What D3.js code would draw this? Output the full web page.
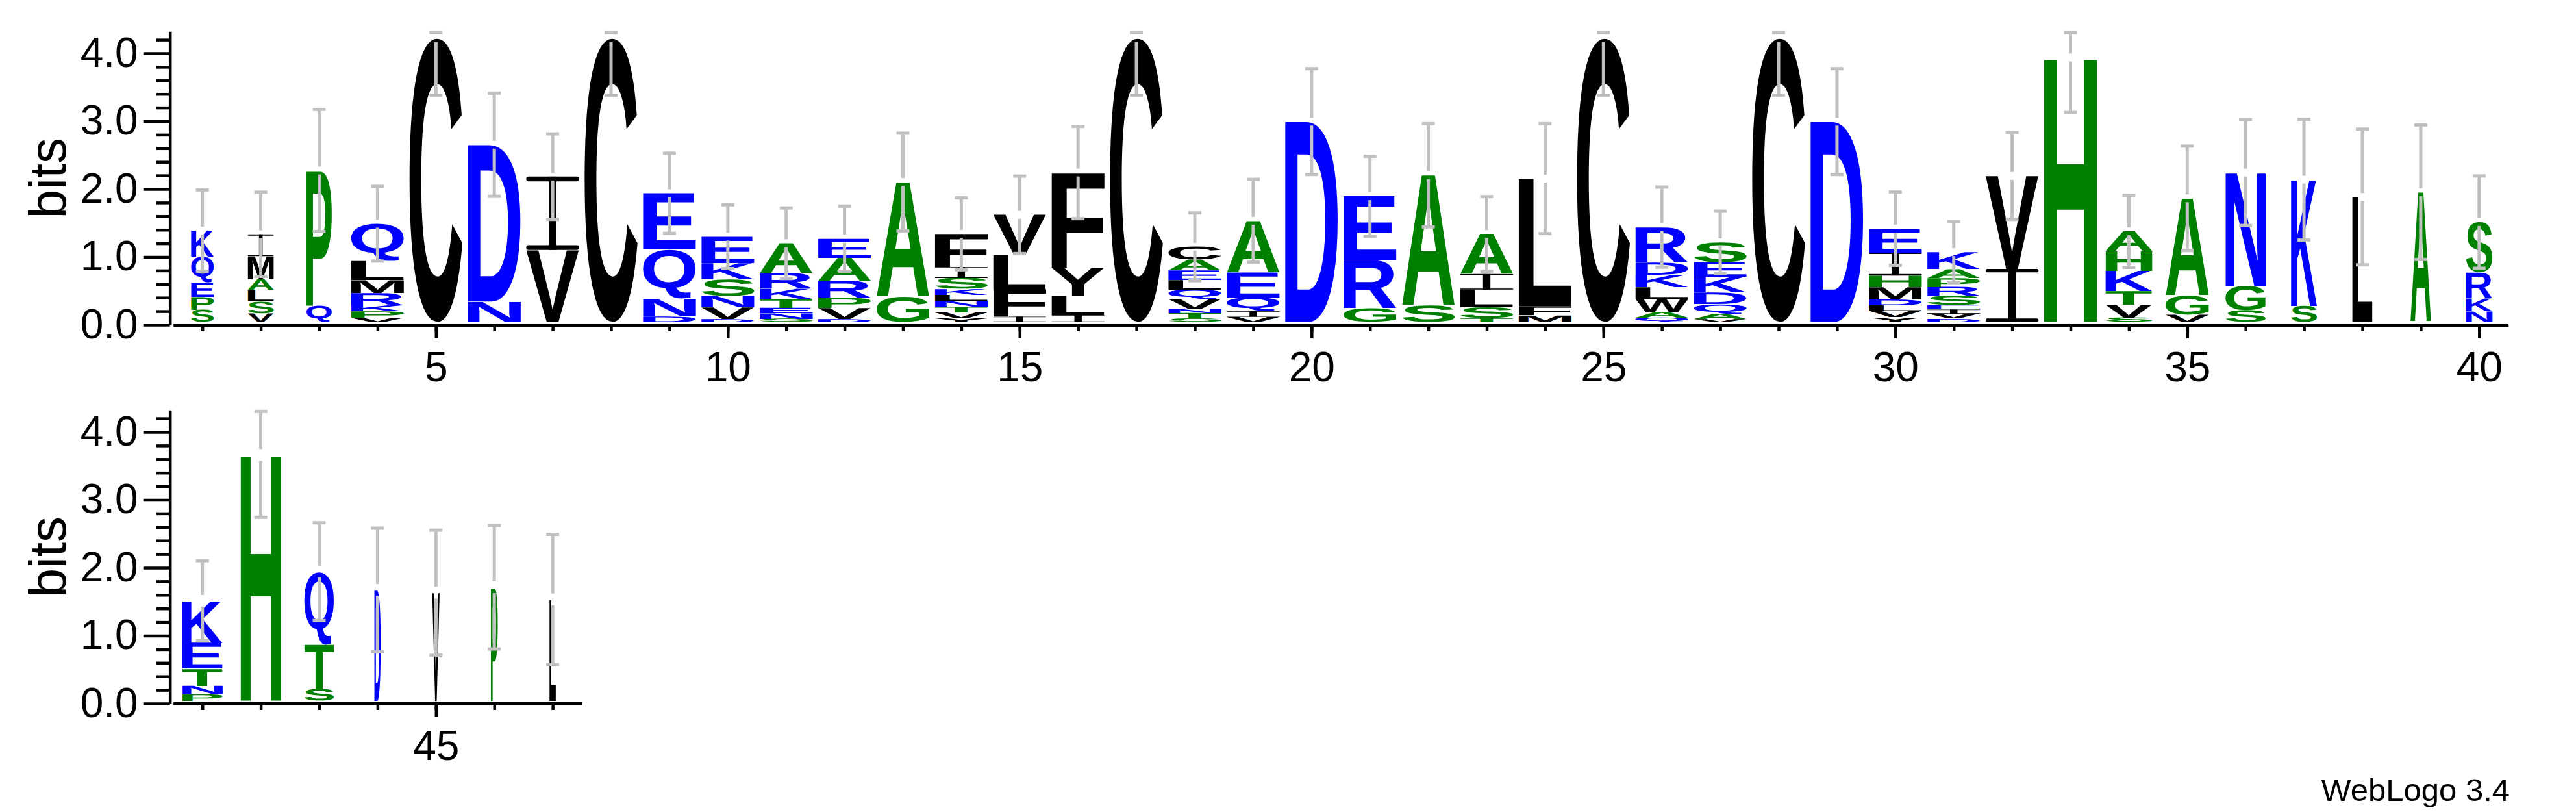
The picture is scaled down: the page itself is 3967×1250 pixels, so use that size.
<!DOCTYPE html>
<html><head><meta charset="utf-8">
<script src="https://cdn.jsdelivr.net/npm/d3@7"></script>
<style>
html,body{margin:0;padding:0;background:#fff;}
svg{display:block;}
</style></head><body>
<svg id="chart" width="3967" height="1250"></svg>
<script>
// ---------------- data ----------------
const positions = d3.range(1, 48);
// letters of each stack, listed from top to bottom
const stackLetters = [
  "KQEPS","IMALSV","PQ","QLMRKPV","C","DN","IV","C","EQND","EKSNVD",
  "ARKTENS","EARPVD","AG","FISKLNTVY","VLFI","FYLI","C","CAELQVNTS","AEQIV","D",
  "ERG","AS","AILST","LFM","C","RDKLWAQ","SEKDQAV","C","D","EIHMDLVY",
  "KAPRSEIVD","VI","H","AHKTVS","AGV","NGS","KS","L","A","SRKN",
  "KETNP","H","QTS","D","V","P","L"
];
// heights in bits, same order as the letters
const stackHeights = [
  [0.386,0.378,0.21,0.19,0.18],[0.32,0.34,0.16,0.17,0.17,0.13],[1.99,0.24],
  [0.55,0.28,0.19,0.18,0.087,0.095,0.064],[4.18],[2.31,0.30],[1.08,1.06],[4.18],
  [0.83,0.72,0.26,0.085],[0.39,0.24,0.24,0.17,0.17,0.045],
  [0.44,0.23,0.15,0.13,0.08,0.083,0.045],[0.28,0.34,0.25,0.15,0.16,0.045],[1.69,0.37],
  [0.49,0.16,0.16,0.086,0.086,0.086,0.086,0.086,0.057],[0.59,0.51,0.40,0.077],
  [1.40,0.42,0.28,0.10],[4.18],[0.19,0.16,0.14,0.14,0.14,0.15,0.057,0.081,0.048],
  [0.76,0.37,0.20,0.083,0.076],[2.95],[0.94,0.71,0.20],[1.92,0.24],
  [0.59,0.23,0.26,0.155,0.06],[1.88,0.13,0.10],[4.18],
  [0.52,0.18,0.185,0.17,0.19,0.087,0.064],[0.29,0.22,0.23,0.17,0.14,0.076,0.045],
  [4.18],[2.95],[0.35,0.34,0.17,0.18,0.086,0.09,0.09,0.067],
  [0.25,0.13,0.134,0.13,0.134,0.067,0.062,0.072,0.048],[1.37,0.78],[3.895],
  [0.29,0.29,0.30,0.20,0.19,0.064],[1.43,0.28,0.11],[1.67,0.36,0.17],[1.86,0.235],
  [1.84],[1.91],[0.74,0.38,0.19,0.16],
  [0.62,0.38,0.25,0.12,0.10],[3.62],[1.07,0.66,0.17],[1.63],[1.59],[1.67],[1.49]
];
// relative stack widths (fraction of sequences without gap)
const stackWidths = [
  0.43,0.49,0.48,1,1,1,1,1,1,1, 1,1,1,1,1,1,1,1,1,1,
  1,1,1,1,1,1,1,1,1,1, 1,1,1,0.88,0.82,0.76,0.49,0.38,0.39,0.50,
  0.76,0.76,0.56,0.12,0.14,0.13,0.12
];
// error bar half-lengths in bits
const errorBars = [
  0.60,0.62,0.90,0.55,0.84,0.76,0.63,0.84,0.59,0.47,
  0.52,0.48,0.72,0.53,0.57,0.68,0.84,0.50,0.61,0.78,
  0.59,0.76,0.55,0.81,0.84,0.59,0.46,0.84,0.78,0.54,
  0.45,0.64,0.81,0.53,0.77,0.78,0.89,1.00,0.99,0.68,
  0.59,0.92,0.72,0.91,0.92,0.91,0.96
];
const yMajorTicks = [0, 1, 2, 3, 4];
const yMinorTicks = [0.2,0.4,0.6,0.8,1.2,1.4,1.6,1.8,2.2,2.4,2.6,2.8,3.2,3.4,3.6,3.8,4.2];
const xLabelTicks = [5,10,15,20,25,30,35,40,45];
const rows = [{start: 1, end: 40}, {start: 41, end: 47}];
const colourGroups = [
  {letters: "RKDENQ", colour: "#0000ff"},
  {letters: "SGHTAP", colour: "#008000"},
  {letters: "YVMCLFIW", colour: "#000000"}
];

// ---------------- layout ----------------
const FONT = "'Liberation Sans', Arial, Helvetica, sans-serif";
const maxBits = Math.log2(20);
const BIT = 104.5;
const colStep = 89.9, colW = 81.5;
const axisX = 261.7, x0 = 266.75;
const rowBase = [500, 1083];

const svg = d3.select('#chart');
svg.append('rect').attr('width', 3967).attr('height', 1250).attr('fill', '#fff');

function colourOf(ch) {
  const g = colourGroups.find(c => c.letters.includes(ch));
  return g ? g.colour : '#000';
}

const mctx = document.createElement('canvas').getContext('2d');
const GS = 200;
mctx.font = `bold ${GS}px 'Liberation Sans'`;
const boxCache = {};
function glyphBox(ch) {
  if (!boxCache[ch]) {
    const m = mctx.measureText(ch);
    boxCache[ch] = {l: m.actualBoundingBoxLeft, r: m.actualBoundingBoxRight,
                    a: m.actualBoundingBoxAscent, d: m.actualBoundingBoxDescent};
  }
  return boxCache[ch];
}

function drawLetter(g, ch, bx, by, bw, bh) {
  const col = colourOf(ch);
  if (ch === 'I') {
    const t = Math.max(bh * 0.065, 0.8);
    const sw = bw * 0.14;
    const gi = g.append('g').attr('class', 'letter-I');
    gi.append('rect').attr('x', bx + bw / 2 - sw / 2).attr('y', by).attr('width', sw).attr('height', bh).attr('fill', col);
    gi.append('rect').attr('x', bx).attr('y', by).attr('width', bw).attr('height', t).attr('rx', t / 2).attr('fill', col);
    gi.append('rect').attr('x', bx).attr('y', by + bh - t).attr('width', bw).attr('height', t).attr('rx', t / 2).attr('fill', col);
    return;
  }
  const b = glyphBox(ch);
  const sx = bw / (b.l + b.r), sy = bh / (b.a + b.d);
  g.append('text')
    .attr('transform', `translate(${bx},${by}) scale(${sx},${sy}) translate(${b.l},${b.a})`)
    .attr('font-family', FONT).attr('font-weight', 'bold').attr('font-size', GS)
    .attr('text-rendering', 'geometricPrecision')
    .attr('fill', col).text(ch);
}

rows.forEach((row, ri) => {
  const g = svg.append('g').attr('transform', `translate(0,${rowBase[ri]})`);
  const n = row.end - row.start + 1;
  const x = d3.scaleLinear().domain([row.start - 0.5, row.end + 0.5]).range([x0, x0 + n * colStep]);
  const yAxisScale = d3.scaleLinear().domain([0, maxBits]).range([0, -maxBits * BIT]);
  const yStack = d3.scaleLinear().domain([0, maxBits]).range([-4.5, -4.5 - maxBits * BIT]);
  const rowPositions = positions.filter(p => p >= row.start && p <= row.end);

  // stacks
  const stacks = g.append('g').attr('class', 'stacks');
  rowPositions.forEach(p => {
    const i = p - 1;
    const letters = stackLetters[i].split('');
    const hs = stackHeights[i];
    const w = colW * stackWidths[i];
    const bx = x(p) - w / 2;
    let cum = 0;
    for (let k = letters.length - 1; k >= 0; k--) {
      const yb = yStack(cum), yt = yStack(cum + hs[k]);
      drawLetter(stacks, letters[k], bx, yt, w, yb - yt);
      cum += hs[k];
    }
  });

  // error bars
  const eg = g.append('g').attr('class', 'errorbars').attr('stroke', '#c0c0c0').attr('stroke-width', 5);
  rowPositions.forEach(p => {
    const i = p - 1;
    const tot = d3.sum(stackHeights[i]);
    const e = errorBars[i];
    const cx = x(p);
    const yTop = Math.max(yStack(tot + e), yAxisScale(maxBits) + 2);
    const yMid = yStack(tot);
    const yBot = yStack(tot - e);
    const gap = ri === 0 ? 6 : 9;
    if (yMid - gap > yTop) eg.append('line').attr('x1', cx).attr('x2', cx).attr('y1', yTop).attr('y2', yMid - gap);
    eg.append('line').attr('x1', cx).attr('x2', cx).attr('y1', yMid + gap).attr('y2', yBot);
    eg.append('line').attr('x1', cx - 10).attr('x2', cx + 10).attr('y1', yTop).attr('y2', yTop);
    eg.append('line').attr('x1', cx - 10).attr('x2', cx + 10).attr('y1', yBot).attr('y2', yBot);
  });

  // y axis
  const yMinor = g.append('g').attr('transform', `translate(${axisX},0)`)
    .call(d3.axisLeft(yAxisScale).tickValues(yMinorTicks).tickSize(21).tickSizeOuter(0).tickFormat(''));
  yMinor.select('.domain').remove();
  const yMajor = g.append('g').attr('transform', `translate(${axisX},0)`)
    .call(d3.axisLeft(yAxisScale).tickValues(yMajorTicks).tickSize(41).tickSizeOuter(0)
      .tickPadding(8).tickFormat(d3.format('.1f')));
  [yMinor, yMajor].forEach(a => {
    a.selectAll('line').attr('stroke', '#000').attr('stroke-width', 4.5);
    a.selectAll('.domain').attr('stroke', '#000').attr('stroke-width', 4.5);
    a.selectAll('text').attr('font-family', FONT).attr('font-size', 64).attr('fill', '#000');
  });

  // x axis
  const xMinor = g.append('g')
    .call(d3.axisBottom(x).tickValues(rowPositions).tickSize(10).tickSizeOuter(0).tickFormat(''));
  const xMajor = g.append('g')
    .call(d3.axisBottom(x).tickValues(xLabelTicks.filter(v => v >= row.start && v <= row.end))
      .tickSize(21).tickSizeOuter(0).tickPadding(21).tickFormat(d3.format('d')));
  xMajor.select('.domain').remove();
  [xMinor, xMajor].forEach(a => {
    a.selectAll('line').attr('stroke', '#000').attr('stroke-width', 4.5);
    a.selectAll('.domain').attr('stroke', '#000').attr('stroke-width', 5);
    a.selectAll('text').attr('font-family', FONT).attr('font-size', 64).attr('fill', '#000');
  });

  // y label
  g.append('text')
    .attr('transform', `translate(101,${yAxisScale(maxBits / 2)}) rotate(-90)`)
    .attr('text-anchor', 'middle').attr('font-family', FONT).attr('font-size', 80)
    .attr('fill', '#000').text('bits');
});

svg.append('text').attr('x', 3865).attr('y', 1233).attr('text-anchor', 'end')
  .attr('font-family', FONT).attr('font-size', 49).attr('fill', '#000').text('WebLogo 3.4');
</script>
</body></html>
